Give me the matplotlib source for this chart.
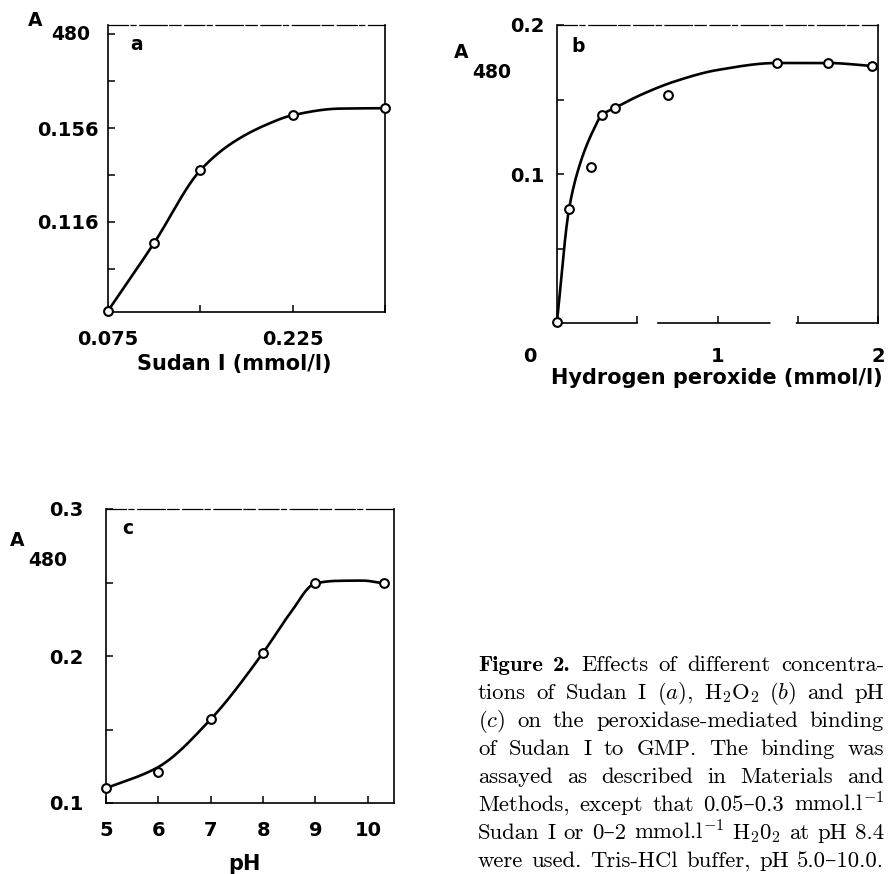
import numpy as np
import matplotlib
matplotlib.use('Agg')
import matplotlib.pyplot as plt
from matplotlib.transforms import ScaledTranslation

plt.rcParams['mathtext.fontset'] = 'cm'
plt.rcParams['font.family'] = 'DejaVu Sans'

W, H = 889, 874

# (a) Sudan I concentration
sudan_x = [0.075, 0.1125, 0.15, 0.225, 0.30]
sudan_a = [0.078, 0.107, 0.138, 0.1615, 0.1645]
sudan_curve_x = [0.075, 0.1125, 0.15, 0.176, 0.203, 0.225, 0.2625, 0.30]
sudan_curve_y = [0.078, 0.107, 0.138, 0.1497, 0.1573, 0.1615, 0.1643, 0.1645]

# (b) hydrogen peroxide concentration
h2o2_x = [0.0, 0.075, 0.21, 0.28, 0.36, 0.69, 1.37, 1.69, 1.96]
h2o2_a = [0.001, 0.0765, 0.105, 0.1396, 0.1443, 0.153, 0.1745, 0.1745, 0.1725]
h2o2_curve_x = [0.0, 0.075, 0.144, 0.227, 0.28, 0.36, 0.52, 0.73, 1.0, 1.37, 1.69, 1.96]
h2o2_curve_y = [0.001, 0.0765, 0.107, 0.1295, 0.1396, 0.1443, 0.153, 0.162, 0.1698, 0.1745, 0.1745, 0.1725]

# (c) pH
ph_x = [5, 6, 7, 8, 9, 10.3]
ph_a = [0.110, 0.1213, 0.157, 0.2022, 0.2494, 0.2494]
ph_curve_x = [5.0, 6.0, 7.0, 8.0, 8.5, 9.0, 9.4, 9.9, 10.3]
ph_curve_y = [0.110, 0.1245, 0.157, 0.2022, 0.2282, 0.2494, 0.2511, 0.2513, 0.2494]

caption_lines = [
    ["Figure", "2.", "Effects", "of", "different", "concentra-"],
    ["tions", "of", "Sudan", "I", "($a$),", "H$_2$O$_2$", "($b$)", "and", "pH"],
    ["($c$)", "on", "the", "peroxidase-mediated", "binding"],
    ["of", "Sudan", "I", "to", "GMP.", "The", "binding", "was"],
    ["assayed", "as", "described", "in", "Materials", "and"],
    ["Methods,", "except", "that", "0.05\u20130.3", "mmol.l$^{-1}$"],
    ["Sudan", "I", "or", "0\u20132", "mmol.l$^{-1}$", "H$_2$0$_2$", "at", "pH", "8.4"],
    ["were", "used.", "Tris-HCl", "buffer,", "pH", "5.0\u201310.0."],
]


def smooth(xs, ys, n=400):
    # monotone cubic (pchip) through the points
    x = np.asarray(xs, float)
    y = np.asarray(ys, float)
    h = np.diff(x)
    delta = np.diff(y) / h
    d = np.zeros_like(y)
    d[0], d[-1] = delta[0], delta[-1]
    for k in range(1, len(x) - 1):
        if delta[k - 1] * delta[k] > 0:
            w1 = 2 * h[k] + h[k - 1]
            w2 = h[k] + 2 * h[k - 1]
            d[k] = (w1 + w2) / (w1 / delta[k - 1] + w2 / delta[k])
    xx = np.linspace(x[0], x[-1], n)
    k = np.clip(np.searchsorted(x, xx) - 1, 0, len(x) - 2)
    t = (xx - x[k]) / h[k]
    h00 = 2 * t ** 3 - 3 * t ** 2 + 1
    h10 = t ** 3 - 2 * t ** 2 + t
    h01 = -2 * t ** 3 + 3 * t ** 2
    h11 = t ** 3 - t ** 2
    yy = h00 * y[k] + h10 * h[k] * d[k] + h01 * y[k + 1] + h11 * h[k] * d[k + 1]
    return xx, yy


def rect(l, t, r, b):
    return [l / W, 1 - b / H, (r - l) / W, (b - t) / H]


def px(x, y):
    return x / W, 1 - y / H


def style(ax, xpad, ypad, bottom_dash=None):
    for s in ax.spines.values():
        s.set_linewidth(1.2)
    ax.spines['top'].set_linewidth(0.9)
    ax.spines['top'].set_linestyle((0, (16, 2, 4, 3, 22, 2, 9, 3)))
    if bottom_dash is not None:
        ax.spines['bottom'].set_linestyle(bottom_dash)
    ax.tick_params(direction='in', length=5, width=1.1, labelsize=14)
    ax.tick_params(axis='x', pad=xpad)
    ax.tick_params(axis='y', pad=ypad)
    for lab in ax.get_xticklabels() + ax.get_yticklabels():
        lab.set_fontweight('bold')


def draw(ax, cx, cy, x, y):
    sx, sy = smooth(cx, cy)
    ax.plot(sx, sy, color='black', lw=1.9, solid_capstyle='round', zorder=2, clip_on=False)
    ax.plot(x, y, 'o', ms=6.3, mfc='white', mec='black', mew=1.5, zorder=3, clip_on=False)


fig = plt.figure(figsize=(W / 100, H / 100), dpi=100)

ax_a = fig.add_axes(rect(108, 25, 385, 312))
ax_b = fig.add_axes(rect(557, 25, 878, 323))
ax_c = fig.add_axes(rect(106, 509, 394, 803))

# panel a
draw(ax_a, sudan_curve_x, sudan_curve_y, sudan_x, sudan_a)
ax_a.set_xlim(0.075, 0.30)
ax_a.set_ylim(0.0775, 0.200)
ax_a.set_xticks([0.075, 0.15, 0.225, 0.30])
ax_a.set_xticklabels(['0.075', '', '0.225', ''])
ax_a.set_yticks([0.096, 0.116, 0.136, 0.156, 0.176, 0.196])
ax_a.set_yticklabels(['', '0.116', '', '0.156', '', ''])
style(ax_a, 13, 7)

# panel b
draw(ax_b, h2o2_curve_x, h2o2_curve_y, h2o2_x, h2o2_a)
ax_b.set_xlim(0, 2)
ax_b.set_ylim(0, 0.2)
ax_b.set_xticks([0, 0.5, 1, 1.5, 2])
ax_b.set_xticklabels(['0', '', '1', '', '2'])
ax_b.set_yticks([0.05, 0.1, 0.15, 0.2])
ax_b.set_yticklabels(['', '0.1', '', '0.2'])
style(ax_b, 17, 9, bottom_dash=(0, (48, 12.6, 67, 16.2, 50, 4)))
lab0 = ax_b.get_xticklabels()[0]
lab0.set_transform(lab0.get_transform() + ScaledTranslation(-0.27, 0, fig.dpi_scale_trans))

# panel c
draw(ax_c, ph_curve_x, ph_curve_y, ph_x, ph_a)
ax_c.set_xlim(5, 10.5)
ax_c.set_ylim(0.1, 0.3)
ax_c.set_xticks([5, 6, 7, 8, 9, 10])
ax_c.set_xticklabels(['5', '6', '7', '8', '9', '10'])
ax_c.set_yticks([0.1, 0.15, 0.2, 0.25, 0.3])
ax_c.set_yticklabels(['0.1', '', '0.2', '', '0.3'])
style(ax_c, 13, 16)

# y labels A480 and panel letters
lab_kw = dict(ha='center', va='center', fontweight='bold', fontsize=13.5)
for (ax_pos, num_pos, let_pos, letter) in [((35, 20), (71, 35), (137, 45), 'a'),
                                          ((461, 53), (492, 72), (578, 46), 'b'),
                                          ((17, 540), (48, 560), (128, 529), 'c')]:
    fig.text(*px(*ax_pos), 'A', **lab_kw)
    fig.text(*px(*num_pos), '480', **lab_kw)
    fig.text(*px(*let_pos), letter, **lab_kw)

fig.text(*px(234, 364), 'Sudan I (mmol/l)', ha='center', va='center', fontweight='bold', fontsize=15)
fig.text(*px(717, 378), 'Hydrogen peroxide (mmol/l)', ha='center', va='center', fontweight='bold', fontsize=15)
fig.text(*px(244, 864), 'pH', ha='center', va='center', fontweight='bold', fontsize=15)

# justified caption: one font size so that the tightest line fits with normal spaces
renderer = fig.canvas.get_renderer()
x0, x1 = 478, 884
baselines = [671, 699, 727, 755, 783, 811, 839, 867]


def cap_text(li, wi, w, size):
    fam = ['cmb10', 'DejaVu Serif'] if (li == 0 and wi < 2) else ['cmr10', 'DejaVu Serif']
    return fig.text(0, 0, w, fontsize=size, family=fam, va='baseline')


base = 10.0
scales = []
for li, words in enumerate(caption_lines):
    ts = [cap_text(li, wi, w, base) for wi, w in enumerate(words)]
    wsum = sum(t.get_window_extent(renderer).width for t in ts)
    space = 0.333 * base * 100 / 72
    scales.append((x1 - x0) / (wsum + space * (len(words) - 1)))
    for t in ts:
        t.remove()
size = base * min(scales)

for li, (words, yb) in enumerate(zip(caption_lines, baselines)):
    texts = [cap_text(li, wi, w, size) for wi, w in enumerate(words)]
    widths = [t.get_window_extent(renderer).width for t in texts]
    gap = (x1 - x0 - sum(widths)) / (len(words) - 1)
    x = x0
    for t, w in zip(texts, widths):
        t.set_position(px(x, yb))
        x += w + gap

fig.savefig('out.png', dpi=100)
